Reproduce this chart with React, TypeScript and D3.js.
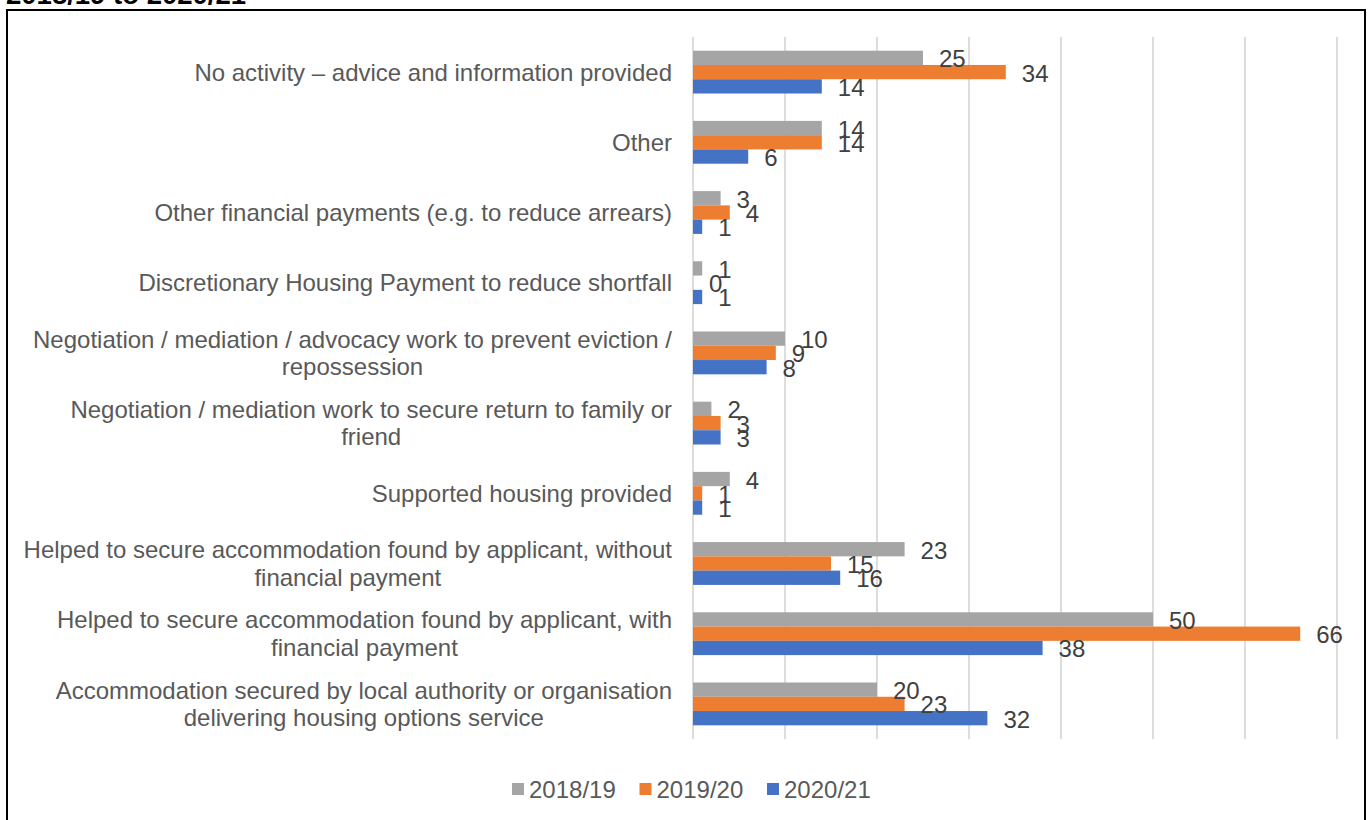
import React from "react";
import * as d3 from "d3";

const categories: string[][] = [
  ["No activity \u2013 advice and information provided"],
  ["Other"],
  ["Other financial payments (e.g. to reduce arrears)"],
  ["Discretionary Housing Payment to reduce shortfall"],
  ["Negotiation / mediation / advocacy work to prevent eviction /", "repossession"],
  ["Negotiation / mediation work to secure return to family or", "friend"],
  ["Supported housing provided"],
  ["Helped to secure accommodation found by applicant, without", "financial payment"],
  ["Helped to secure accommodation found by applicant, with", "financial payment"],
  ["Accommodation secured by local authority or organisation", "delivering housing options service"],
];

const seriesNames = ["2018/19", "2019/20", "2020/21"];
const values2018 = [25, 14, 3, 1, 10, 2, 4, 23, 50, 20];
const values2019 = [34, 14, 4, 0, 9, 3, 1, 15, 66, 23];
const values2020 = [14, 6, 1, 1, 8, 3, 1, 16, 38, 32];
const xTicks = [0, 10, 20, 30, 40, 50, 60, 70];
const colors = ["#A5A5A5", "#ED7D31", "#4472C4"];
const titleTail = "2018/19 to 2020/21";

const FONT = "'Liberation Sans', Arial, sans-serif";

let ctx: CanvasRenderingContext2D | null = null;
function measure(text: string, size: number) {
  if (!ctx) ctx = document.createElement("canvas").getContext("2d");
  if (!ctx) return text.length * size * 0.5;
  ctx.font = `${size}px 'Liberation Sans', Arial, sans-serif`;
  return ctx.measureText(text).width;
}

export default function App() {
  const W = 1368;
  const H = 820;
  const series = [values2018, values2019, values2020];
  const ids = categories.map((_, i) => String(i));

  const x = d3.scaleLinear().domain([0, 70]).range([693, 1337]);
  const y = d3
    .scaleBand<string>()
    .domain(ids)
    .range([37, 739])
    .paddingInner(0.39)
    .paddingOuter(0.195);
  const inner = d3
    .scaleBand<string>()
    .domain(seriesNames)
    .range([0, y.bandwidth()]);

  const labelRight = 672;
  const fs = 24;
  const lineH = 27.5;

  const marks = series.flatMap((vals, si) =>
    vals.map((v, ci) => ({
      si,
      ci,
      v,
      y0: (y(String(ci)) as number) + (inner(seriesNames[si]) as number),
      h: inner.bandwidth(),
    }))
  );

  return (
    <svg
      width={W}
      height={H}
      style={{ position: "absolute", left: 0, top: 0, background: "#fff" }}
      fontFamily={FONT}
    >
      <rect x={0} y={0} width={W} height={H} fill="#fff" />
      <text x={6} y={4} fontSize={27.5} fontWeight="bold" fill="#000">
        {titleTail}
      </text>
      <rect x={7} y={10} width={1358} height={830} fill="none" stroke="#000" strokeWidth={2} />

      {xTicks.map((t) => (
        <line
          key={t}
          x1={x(t)}
          x2={x(t)}
          y1={37}
          y2={739}
          stroke="#d9d9d9"
          strokeWidth={1.75}
        />
      ))}

      {marks.map((m) => (
        <rect
          key={`b-${m.si}-${m.ci}`}
          x={x(0)}
          y={m.y0}
          width={x(m.v) - x(0)}
          height={m.h}
          fill={colors[m.si]}
        />
      ))}

      {marks.map((m) => (
        <text
          key={`t-${m.si}-${m.ci}`}
          x={x(m.v) + 16}
          y={m.y0 + m.h / 2 + 1}
          dominantBaseline="central"
          fontSize={fs}
          fill="#404040"
        >
          {m.v}
        </text>
      ))}

      {categories.map((lines, ci) => {
        const cy = (y(String(ci)) as number) + y.bandwidth() / 2;
        const widths = lines.map((l) => measure(l, fs));
        const maxW = Math.max(...widths);
        const cx = labelRight - maxW / 2;
        const startY = cy - ((lines.length - 1) * lineH) / 2;
        return (
          <text key={ci} fontSize={fs} fill="#595959" textAnchor="middle">
            {lines.map((l, li) => (
              <tspan key={li} x={cx} y={startY + li * lineH} dominantBaseline="central">
                {l}
              </tspan>
            ))}
          </text>
        );
      })}

      {seriesNames.map((name, i) => {
        const lx = 512 + i * 127.5;
        return (
          <g key={name}>
            <rect x={lx} y={783} width={12} height={12} fill={colors[i]} />
            <text x={lx + 17} y={789} dominantBaseline="central" fontSize={fs} fill="#595959">
              {name}
            </text>
          </g>
        );
      })}
    </svg>
  );
}
